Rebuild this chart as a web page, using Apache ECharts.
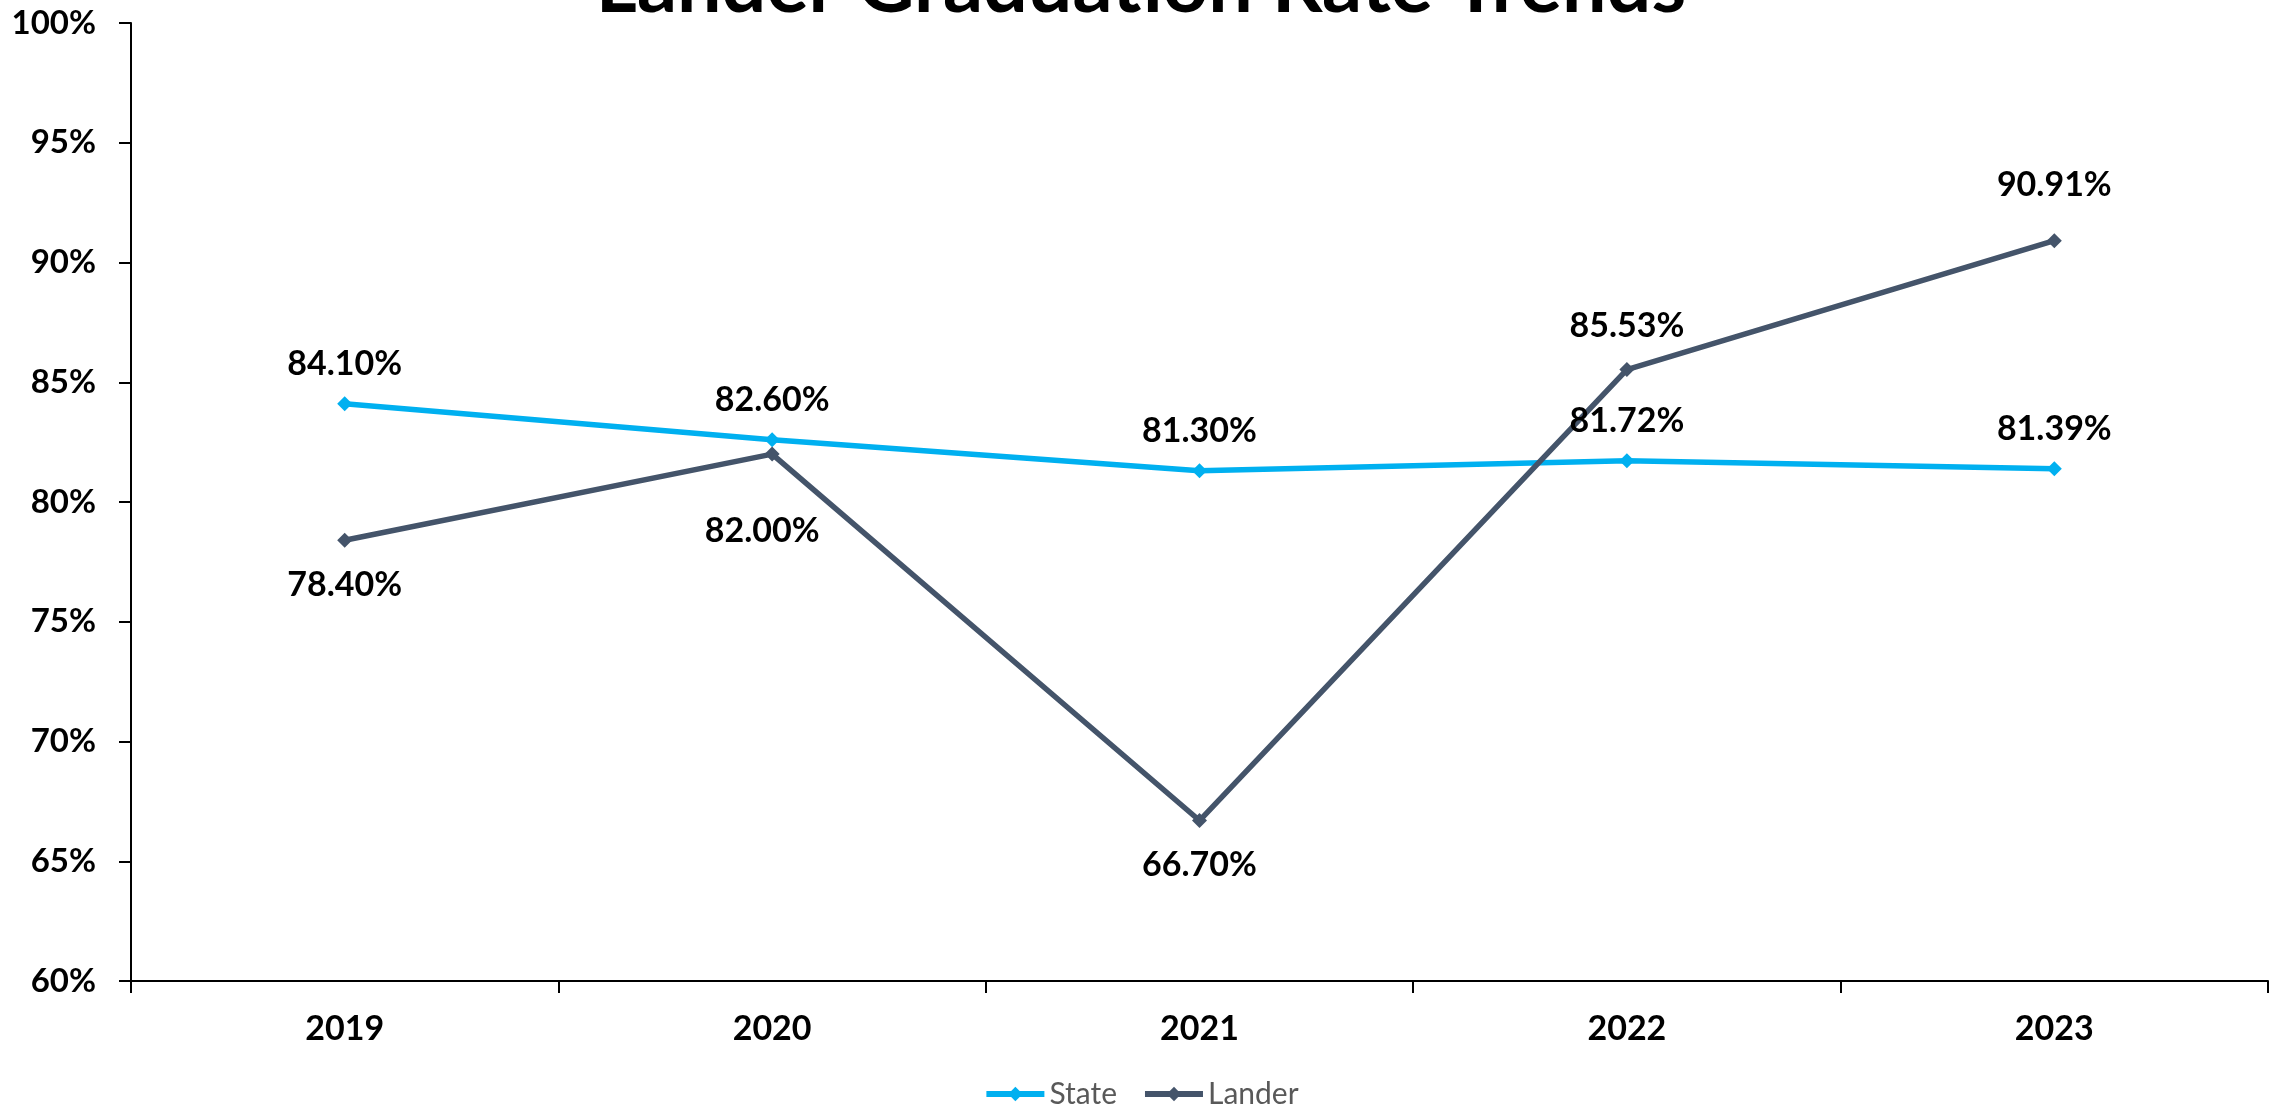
<!DOCTYPE html>
<html><head><meta charset="utf-8">
<script src="https://cdn.jsdelivr.net/npm/echarts@6/dist/echarts.min.js"></script>
<style>html,body{margin:0;padding:0;background:#fff}#c{width:2282px;height:1112px}</style>
</head><body><div id="c"></div>
<script>
const years = ['2019','2020','2021','2022','2023'];
const stateValues = [84.10, 82.60, 81.30, 81.72, 81.39];
const landerValues = [78.40, 82.00, 66.70, 85.53, 90.91];
const yTicks = [60, 65, 70, 75, 80, 85, 90, 95, 100];

const FONT = 'Lato';
const chart = echarts.init(document.getElementById('c'));
const fmt = p => p.value.toFixed(2) + '%';
const labelBase = {show:true, formatter:fmt, fontFamily:FONT, fontWeight:'bold', fontSize:34, color:'#000'};

const landerData = landerValues.map((v,i)=>{
  const d = {value:v};
  if (i===0 || i===2) d.label = {position:'bottom', distance:20};
  if (i===1) d.label = {position:'bottom', distance:52, offset:[-10,0]};
  if (i===3) d.label = {position:'top', distance:19};
  if (i===4) d.label = {position:'top', distance:31};
  return d;
});

chart.setOption({
  animation:false,
  title:{text:'Lander Graduation Rate Trends', left:'center', top:-58,
    textStyle:{fontFamily:FONT, fontWeight:'bold', fontSize:79, color:'#000'}},
  legend:{top:1074, left:'center', itemWidth:58, itemHeight:18, itemGap:25,
    lineStyle:{width:6},
    textStyle:{fontFamily:FONT, fontSize:30, color:'#595959'},
    data:['State','Lander']},
  grid:{left:131, right:14, top:23, bottom:131},
  xAxis:{type:'category', data:years, boundaryGap:true,
    axisLine:{lineStyle:{color:'#000', width:2}},
    axisTick:{show:true, length:12, lineStyle:{color:'#000', width:2}},
    axisLabel:{margin:31, fontFamily:FONT, fontWeight:'bold', fontSize:34, color:'#000'}},
  yAxis:{type:'value', min:yTicks[0], max:yTicks[yTicks.length-1], interval:5,
    splitLine:{show:false},
    axisLine:{show:true, lineStyle:{color:'#000', width:2}},
    axisTick:{show:true, length:12, lineStyle:{color:'#000', width:2}},
    axisLabel:{margin:35, fontFamily:FONT, fontWeight:'bold', fontSize:33, color:'#000', formatter:v=>v+'%'}},
  series:[
    {name:'State', type:'line', data:stateValues, symbol:'diamond', symbolSize:15,
      lineStyle:{color:'#00B0F0', width:5.5}, itemStyle:{color:'#00B0F0'},
      label:Object.assign({}, labelBase, {position:'top', distance:15})},
    {name:'Lander', type:'line', data:landerData, symbol:'diamond', symbolSize:15,
      lineStyle:{color:'#44546A', width:5.5}, itemStyle:{color:'#44546A'},
      label:Object.assign({}, labelBase, {position:'top'})}
  ]
});
</script></body></html>
